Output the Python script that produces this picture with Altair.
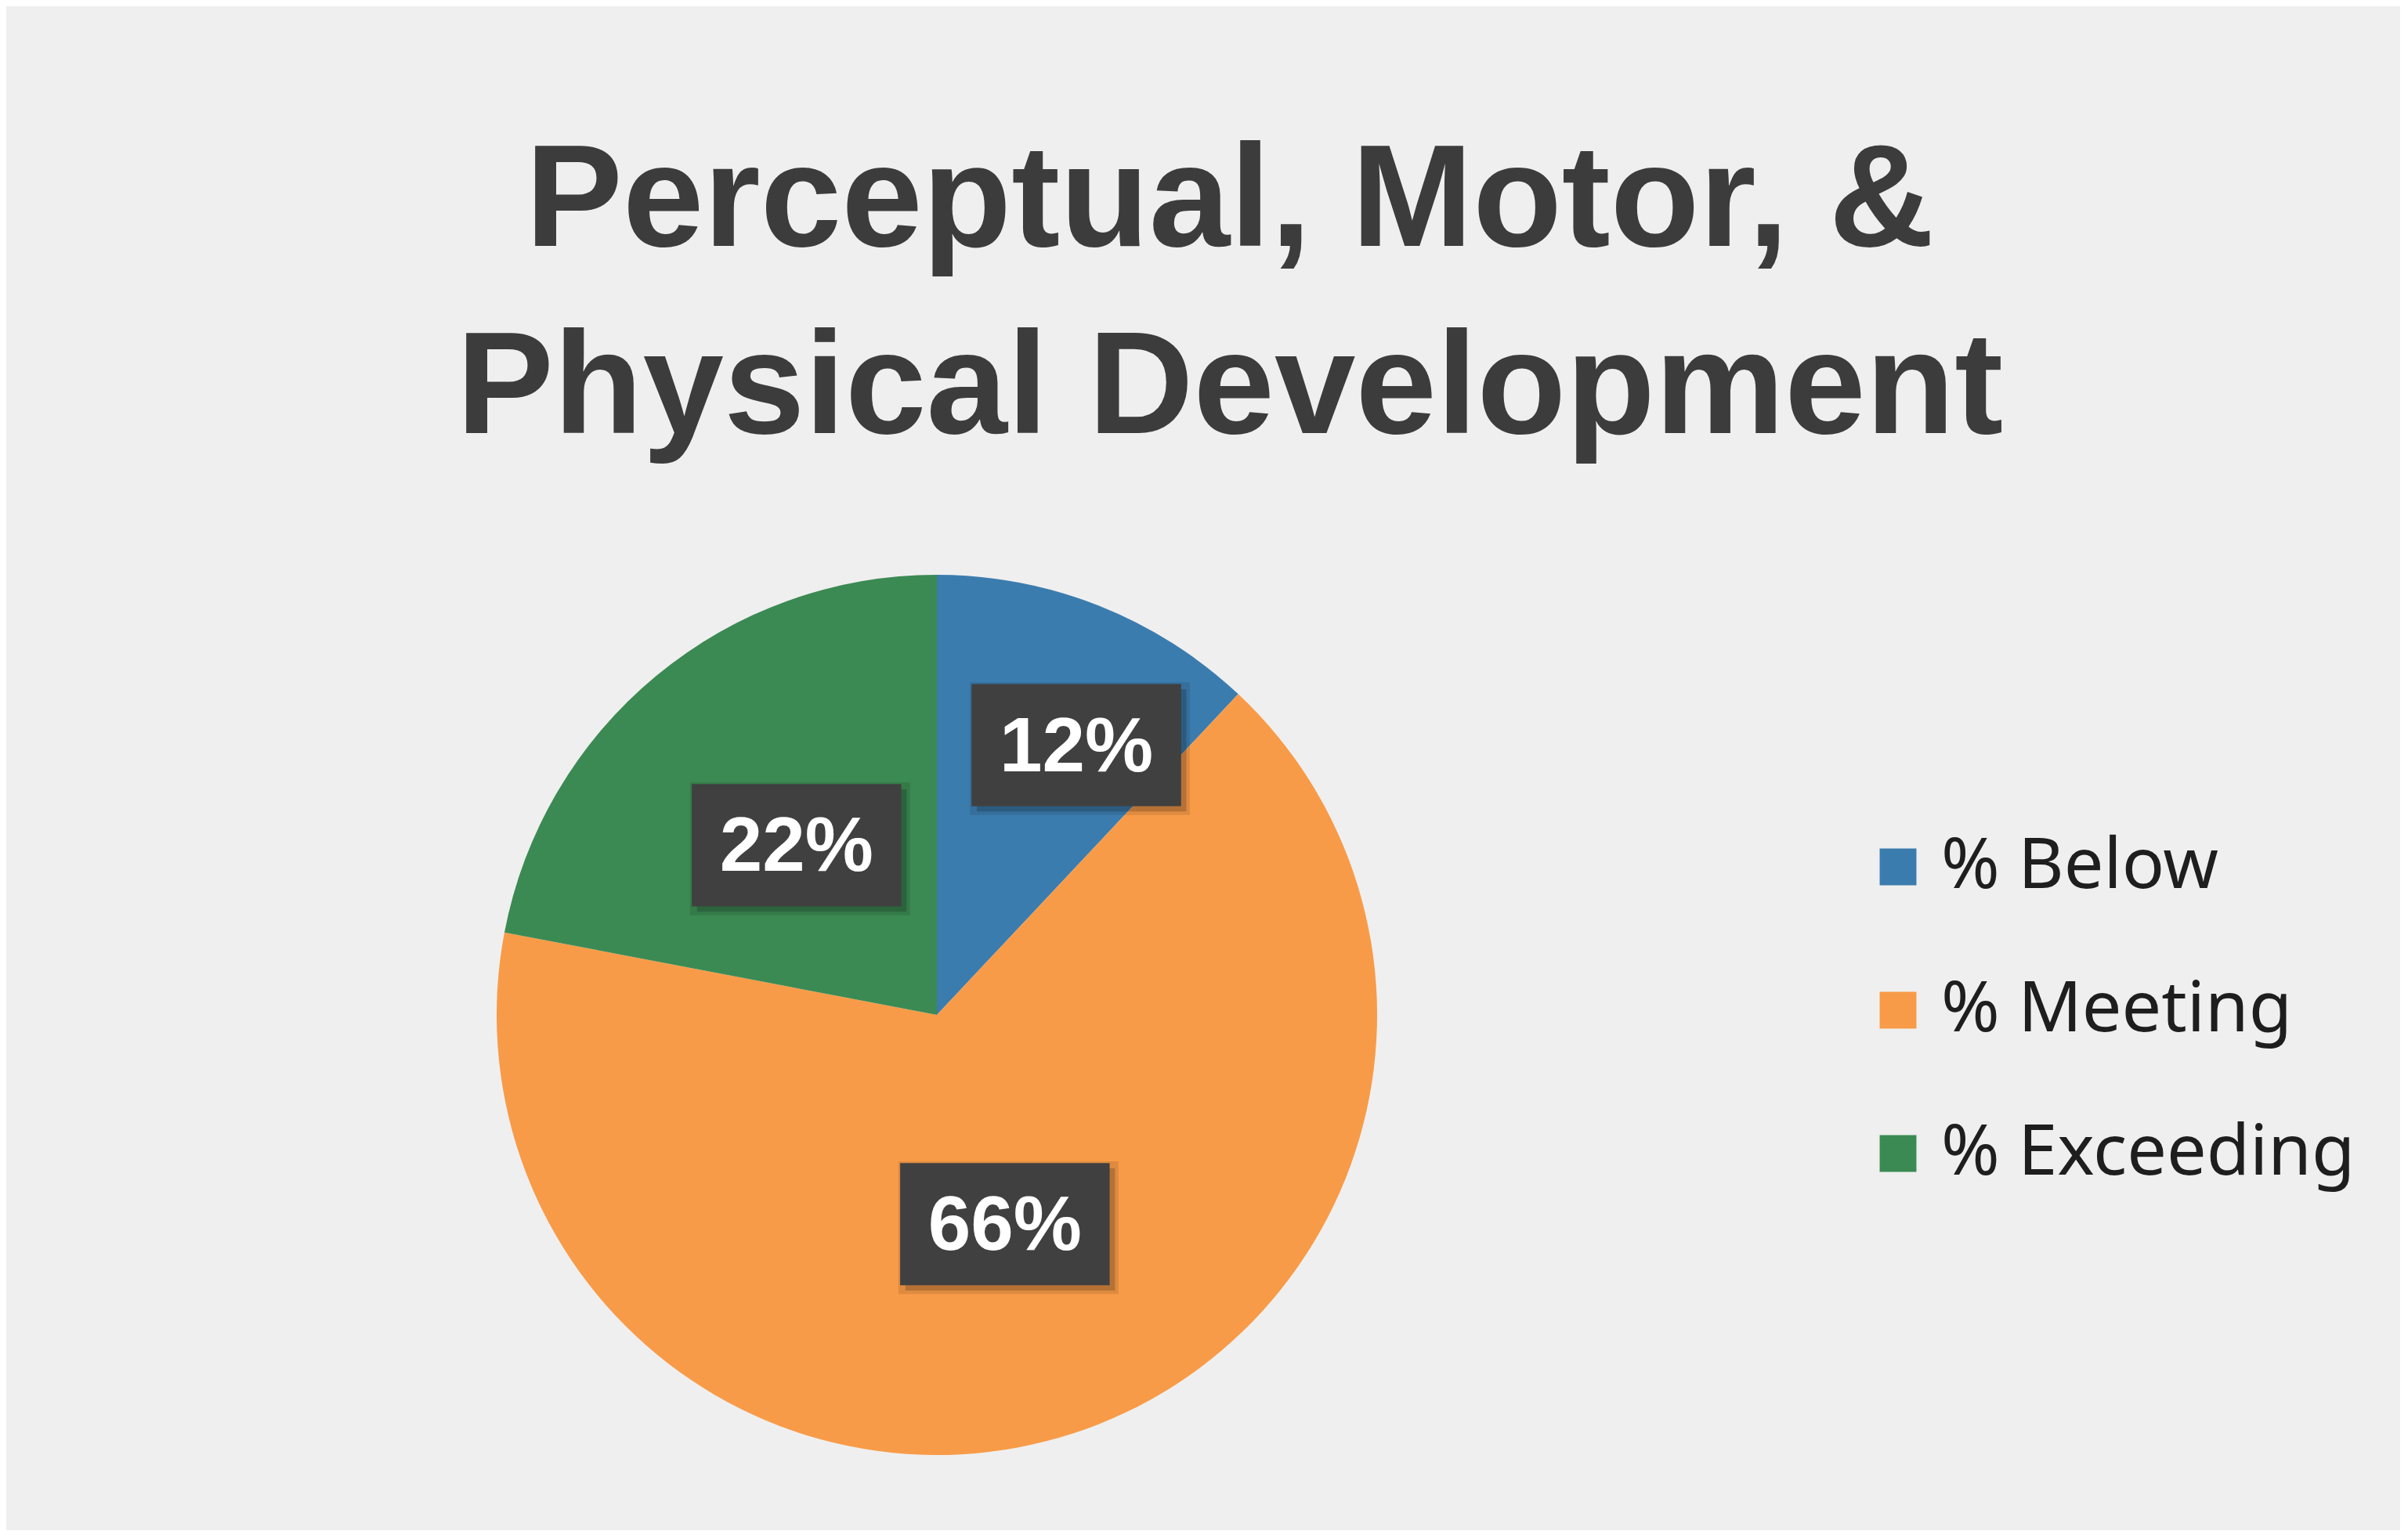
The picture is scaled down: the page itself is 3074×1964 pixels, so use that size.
import altair as alt
import pandas as pd

# ---- data ----
categories = ["% Below", "% Meeting", "% Exceeding"]
values = [12, 66, 22]
labels = ["12%", "66%", "22%"]
colors = ["#3b7cae", "#f89b48", "#3b8a53"]
title_lines = ["Perceptual, Motor, &", "Physical Development"]

df = pd.DataFrame({
    "category": categories,
    "value": values,
    "label": labels,
    "idx": list(range(len(categories))),
})

R = 562  # pie radius in px
VIEW = 2 * R

base = (
    alt.Chart(df)
    .transform_window(cum="sum(value)", sort=[alt.SortField("idx")], frame=[None, 0])
    .transform_joinaggregate(total="sum(value)")
    .transform_calculate(mid="2*PI*(datum.cum - datum.value/2)/datum.total")
    # small slices: label pushed outward (Excel "best fit")
    .transform_calculate(
        rf="datum.value < 15 ? 0.69 : 0.50",
        ang="datum.value < 15 ? datum.mid + 0.1 : datum.mid",
    )
    .transform_calculate(lx="datum.rf*sin(datum.ang)", ly="datum.rf*cos(datum.ang)")
    .transform_calculate(
        bx1="datum.lx - 0.238", bx2="datum.lx + 0.238",
        by1="datum.ly - 0.139", by2="datum.ly + 0.139",
        sx1="datum.lx - 0.238 + 0.012", sx2="datum.lx + 0.238 + 0.012",
        sy1="datum.ly - 0.139 - 0.012", sy2="datum.ly + 0.139 - 0.012",
        hx1="datum.lx - 0.238 - 0.004", hx2="datum.lx + 0.238 + 0.020",
        hy1="datum.ly - 0.139 - 0.020", hy2="datum.ly + 0.139 + 0.004",
    )
)

xs = alt.Scale(domain=[-1, 1], nice=False, zero=False)
ys = alt.Scale(domain=[-1, 1], nice=False, zero=False)

pie = base.mark_arc(outerRadius=R).encode(
    theta=alt.Theta("value:Q", stack=True),
    order=alt.Order("idx:Q"),
    color=alt.Color(
        "category:N",
        scale=alt.Scale(domain=categories, range=colors),
        sort=categories,
        legend=alt.Legend(
            title=None,
            orient="none",
            legendX=1744,
            legendY=328,
            symbolType="square",
            symbolSize=2200,
            symbolStrokeWidth=0,
            labelFont="Noto Sans",
            labelFontSize=90,
            labelColor="#1e1e1e",
            labelOffset=10,
            labelLimit=1000,
            rowPadding=93,
            padding=0,
        ),
    ),
)

halo = base.mark_rect(color="#000000", opacity=0.10).encode(
    x=alt.X("hx1:Q", scale=xs, axis=None),
    x2="hx2:Q",
    y=alt.Y("hy1:Q", scale=ys, axis=None),
    y2="hy2:Q",
)

shadow = base.mark_rect(color="#000000", opacity=0.18).encode(
    x=alt.X("sx1:Q", scale=xs, axis=None),
    x2="sx2:Q",
    y=alt.Y("sy1:Q", scale=ys, axis=None),
    y2="sy2:Q",
)

boxes = base.mark_rect(color="#404040").encode(
    x=alt.X("bx1:Q", scale=xs, axis=None),
    x2="bx2:Q",
    y=alt.Y("by1:Q", scale=ys, axis=None),
    y2="by2:Q",
)

texts = base.mark_text(
    font="Liberation Sans", fontWeight="bold", fontSize=98, color="#ffffff",
    align="center", baseline="middle", dy=4,
).encode(
    x=alt.X("lx:Q", scale=xs, axis=None),
    y=alt.Y("ly:Q", scale=ys, axis=None),
    text="label:N",
)

chart = (
    alt.layer(pie, halo, shadow, boxes, texts)
    .properties(
        width=VIEW,
        height=VIEW,
        title=alt.TitleParams(
            text=title_lines,
            font="Liberation Sans",
            fontWeight="bold",
            fontSize=186,
            color="#3c3c3c",
            lineHeight=239,
            anchor="middle",
            frame="group",
            dx=374,
            offset=142,
        ),
        padding={"left": 626, "top": 726, "right": 1306, "bottom": 96},
        autosize=alt.AutoSizeParams(type="none"),
        background="#efefef",
    )
    .configure_view(stroke=None)
)

chart.save("out.html", embed_options={"renderer": "svg", "actions": False})
